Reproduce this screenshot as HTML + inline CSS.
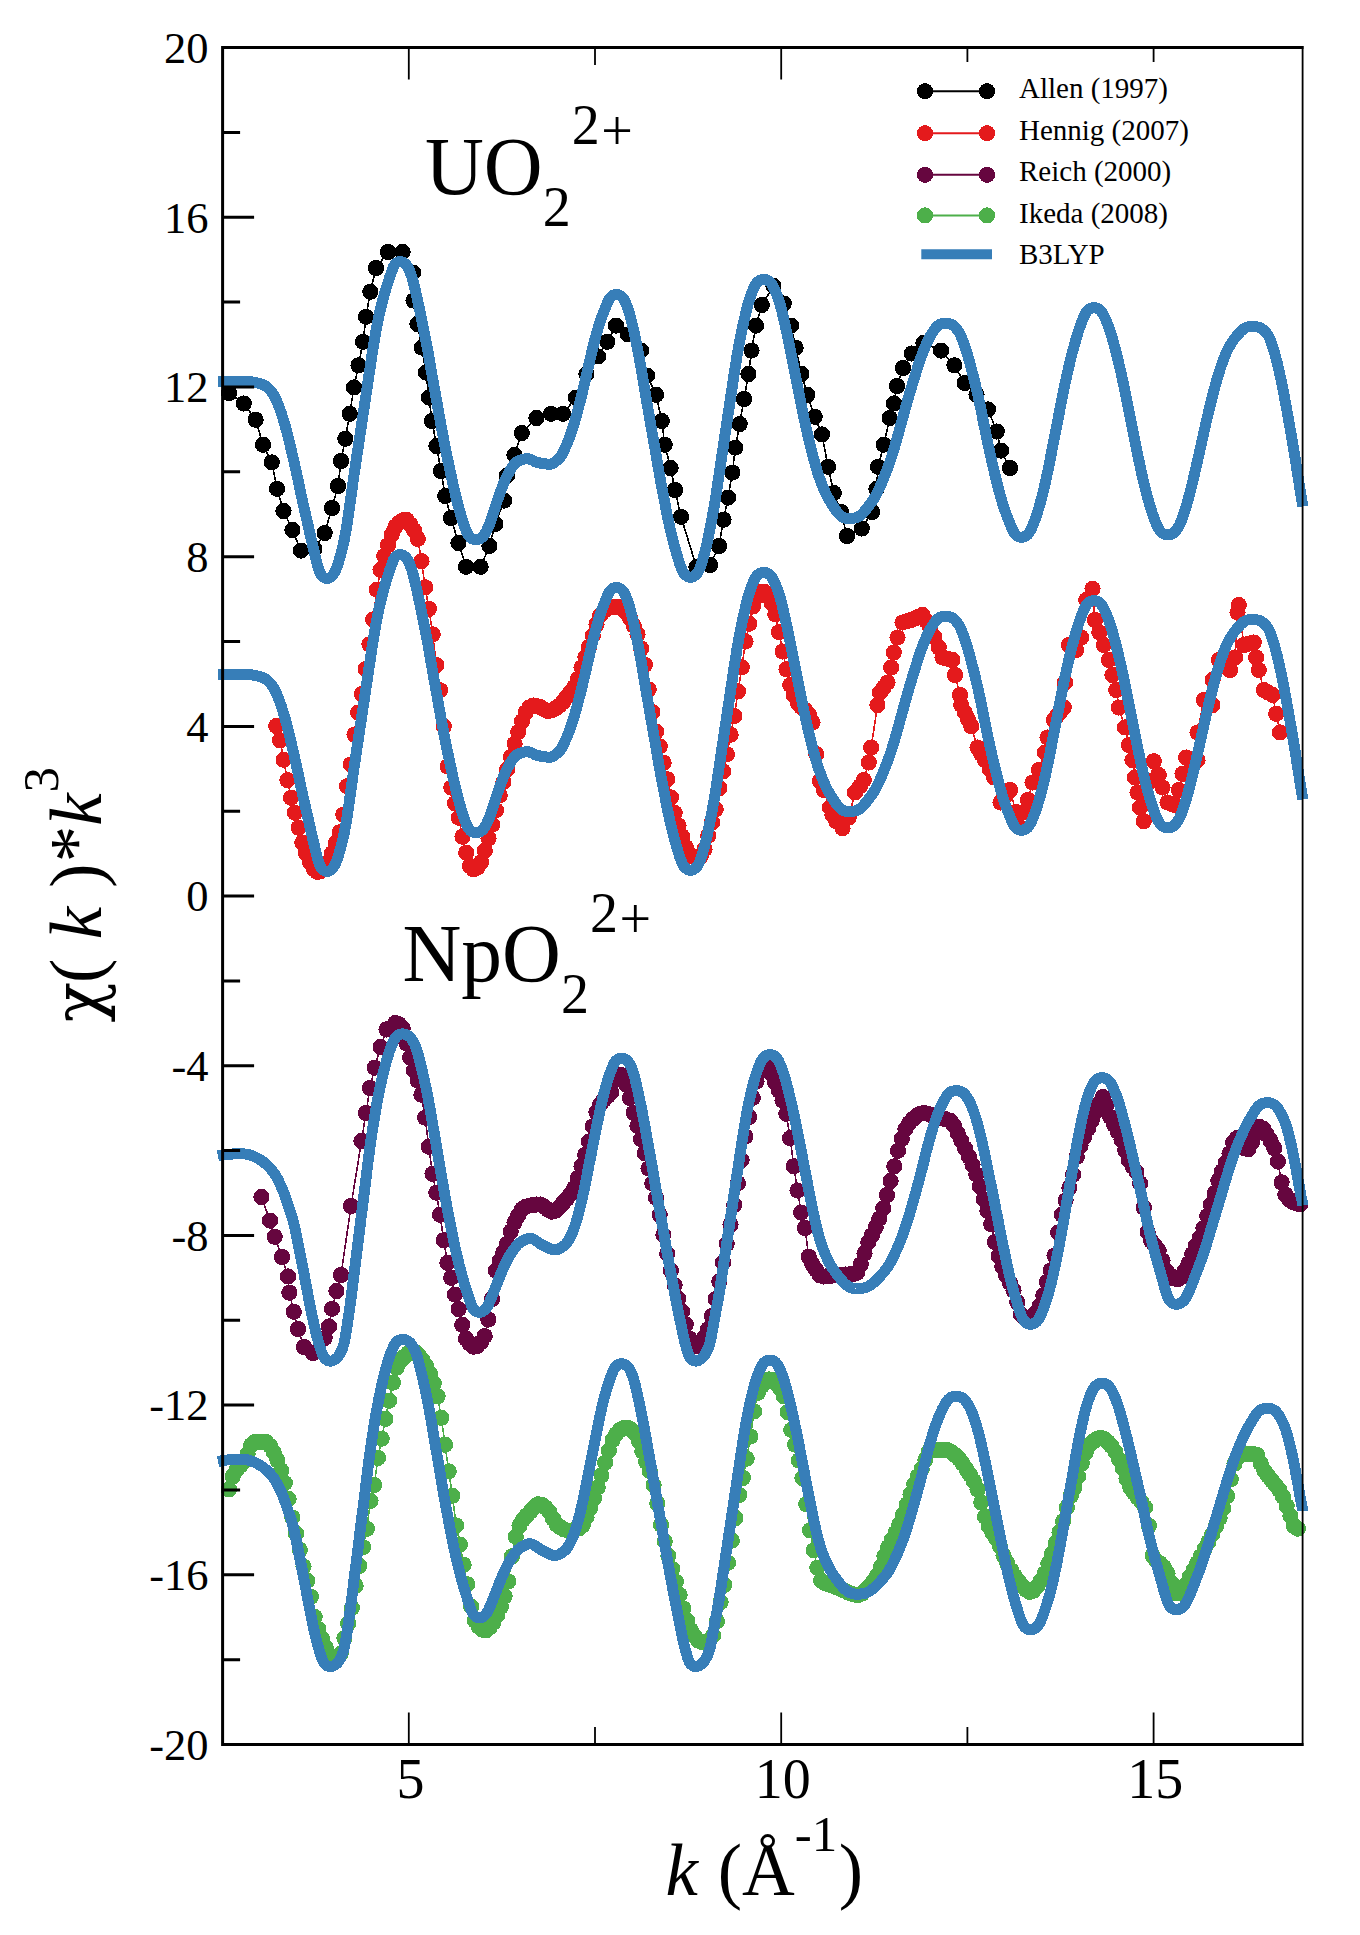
<!DOCTYPE html>
<html lang="en"><head><meta charset="utf-8"><title>EXAFS spectra</title>
<style>html,body{margin:0;padding:0;background:#fff}svg{display:block}text{font-family:"Liberation Serif","DejaVu Serif",serif;fill:#000}.i{font-style:italic}</style></head><body>
<svg width="1360" height="1935" viewBox="0 0 1360 1935">
<rect width="1360" height="1935" fill="#fff"/>
<defs>
<marker id="m-black" markerUnits="userSpaceOnUse" markerWidth="18" markerHeight="18" refX="9" refY="9" viewBox="0 0 18 18"><circle cx="9" cy="9" r="8.1" fill="#000000" shape-rendering="crispEdges"/></marker>
<marker id="m-red" markerUnits="userSpaceOnUse" markerWidth="18" markerHeight="18" refX="9" refY="9" viewBox="0 0 18 18"><circle cx="9" cy="9" r="8.1" fill="#e41a1c" shape-rendering="crispEdges"/></marker>
<marker id="m-purple" markerUnits="userSpaceOnUse" markerWidth="18" markerHeight="18" refX="9" refY="9" viewBox="0 0 18 18"><circle cx="9" cy="9" r="8.1" fill="#66063f" shape-rendering="crispEdges"/></marker>
<marker id="m-green" markerUnits="userSpaceOnUse" markerWidth="18" markerHeight="18" refX="9" refY="9" viewBox="0 0 18 18"><circle cx="9" cy="9" r="8.1" fill="#4daf4a" shape-rendering="crispEdges"/></marker>
</defs>
<g font-size="44.5" text-anchor="end">
<text x="208.5" y="1759.7">-20</text>
<text x="208.5" y="1590">-16</text>
<text x="208.5" y="1420.3">-12</text>
<text x="208.5" y="1250.6">-8</text>
<text x="208.5" y="1080.9">-4</text>
<text x="208.5" y="911.3">0</text>
<text x="208.5" y="741.6">4</text>
<text x="208.5" y="571.9">8</text>
<text x="208.5" y="402.2">12</text>
<text x="208.5" y="232.5">16</text>
<text x="208.5" y="62.8">20</text>
</g>
<g font-size="56" text-anchor="middle">
<text x="410.4" y="1798">5</text>
<text x="782.8" y="1798">10</text>
<text x="1155.2" y="1798">15</text>
</g>
<text font-size="73" x="665.5" y="1895.3"><tspan class="i">k</tspan><tspan dx="1.5"> (Å</tspan><tspan font-size="51" dy="-44.7" dx="0">-1</tspan><tspan dy="44.7" dx="1.5">)</tspan></text>
<text font-size="73" transform="translate(100.5,1022.5) rotate(-90)"><tspan font-size="67" font-family="DejaVu Serif">χ</tspan><tspan dx="-1">( </tspan><tspan class="i" dx="1">k</tspan><tspan dx="1"> )</tspan><tspan dx="1">*</tspan><tspan class="i">k</tspan><tspan font-size="51" dy="-42.5" dx="1">3</tspan></text>
<text font-size="81.5" x="425" y="193.8">UO<tspan font-size="56" dy="32" dx="0">2</tspan><tspan font-size="56" dy="-81.7" dx="1">2</tspan><tspan font-size="56" dy="6" dx="1.5">+</tspan></text>
<text font-size="81.5" x="402.5" y="981">NpO<tspan font-size="56" dy="31.5" dx="0">2</tspan><tspan font-size="56" dy="-81" dx="1">2</tspan><tspan font-size="56" dy="6" dx="1.5">+</tspan></text>
<polyline shape-rendering="crispEdges" fill="none" stroke="#000000" stroke-width="1.6" stroke-linejoin="round" marker-start="url(#m-black)" marker-mid="url(#m-black)" marker-end="url(#m-black)" points="229,393 243.8,403.5 255.6,419.7 263,444.7 271.8,462.4 277,488.8 283.5,511 292.4,530 301,550.6 314.4,549 324.7,533 332,508 338,486 341,461 345.3,438.8 349.7,413.8 354,387.4 358.5,365.3 363,341.8 366,316.8 370.3,291.8 376,268 388,252 402.6,252 413,272.6 413.5,300.6 417.4,324 421.8,347.6 426,372.6 429,397.6 432,421 436.5,446 441,471 445.3,496 451,518 458.5,543 466,566.8 480.6,566.8 489.4,546 495.3,524 504,500.6 507,475.6 514.4,455 521.8,433 536.5,418 551,413.8 563,413.8 576,397.6 586.5,374 598,356.5 607.4,341.8 616,325.6 628,334.4 641,350.6 647,375.6 656,394.7 661.8,421 664.7,444.7 670.6,468 675,490 681,516.8 696.5,567 710,565 719,546 723.5,519.7 728,497.6 732.4,472.6 735.3,447.6 739.7,424 744,399 748.5,374 751.5,350.6 756,325.6 761.8,305 773.5,286 783.8,303.5 791,325.6 795.6,347.6 801.5,374 807.4,394.7 814.7,416.8 822,434.4 828,466.8 833.8,493 841,512 847,536 861.8,528.5 872,512 876.5,489 878,466.8 883.8,444.7 889.7,418 894,403.5 897,386 903,368 911.8,353.5 923.5,343 941,350.6 954.4,365.3 964.7,383 976.5,394.7 988,409.4 996.8,431.5 1001,450.6 1010,468"/>
<polyline shape-rendering="crispEdges" fill="none" stroke="#e41a1c" stroke-width="1.6" stroke-linejoin="round" marker-start="url(#m-red)" marker-mid="url(#m-red)" marker-end="url(#m-red)" points="276.2,726 280,740.3 283.7,759.8 287.4,780.1 291.1,797.8 294.9,812.7 298.6,827.7 302.3,842.8 306,853 309.8,861.7 313.5,868.6 317.2,871.9 320.9,870.9 324.7,867.5 328.4,862.2 332.1,853.1 335.8,843.2 339.6,832.3 343.3,814.6 347,786.2 350.7,764.4 354.5,734.6 358.2,712.5 361.9,694.1 365.6,669.1 369.4,644.3 373.1,619.4 376.8,589.7 380.5,569.9 384.2,556.1 388,545.1 391.7,534.6 395.4,526.7 399.1,522.8 402.9,520.2 406.6,519.8 410.3,524.3 414,530.3 417.8,538.9 421.5,561.1 425.2,587.3 428.9,608.9 432.7,634.3 436.4,665.2 440.1,690.2 443.8,726.4 447.6,766.6 451.3,787.6 455,803.3 458.7,817.7 462.5,836.7 466.2,852.7 469.9,865.9 473.6,869.4 477.4,867.4 481.1,862.2 484.8,850.6 488.5,838.3 492.2,824.8 496,810.1 499.7,795.4 503.4,782 507.1,769.5 510.9,756.9 514.6,743.7 518.3,731.9 522,721.2 525.8,712.4 529.5,707.3 533.2,705.5 536.9,706.2 540.7,707.2 544.4,709.4 548.1,711.2 551.8,710.4 555.6,708.3 559.3,705.6 563,702 566.7,697.1 570.5,692.1 574.2,687.2 577.9,679.1 581.6,667.5 585.4,657.3 589.1,646.8 592.8,635.6 596.5,624.3 600.2,615.4 604,610.7 607.7,608.1 611.4,607.2 615.1,606.8 618.9,607.3 622.6,609.3 626.3,612.3 630,618.1 633.8,625.8 637.5,634.2 641.2,648.5 644.9,664.7 648.7,689.3 652.4,712.2 656.1,731.6 659.8,746.4 663.6,762.6 667.3,779.2 671,797.4 674.7,813 678.5,825.6 682.2,836.5 685.9,847.3 689.6,854.7 693.4,856.9 697.1,858 700.8,856.1 704.5,849.2 708.2,835.7 712,822.6 715.7,809.3 719.4,788.1 723.1,771.3 726.9,754.3 730.6,734.6 734.3,716 738,691.4 741.8,667.3 745.5,641.5 749.2,623.7 752.9,606.5 756.7,596.9 760.4,591.9 764.1,591.6 767.8,596.2 771.6,603.1 775.3,614.3 779,632.1 782.7,651.5 786.5,669.3 790.2,685 793.9,695.4 797.6,702.7 801.4,707.2 805.1,710 808.8,714.3 812.5,722.6 816.2,754.1 820,781 823.7,789.9 830,807.5 832.5,815 836.2,821.2 842.5,828.2 848.8,817.5 855,792.5 860,786.2 863.8,780 868.8,762.5 871.2,747.5 877.5,705 880,692.5 883.8,687.5 887.5,682.5 891.2,667.5 893.8,652.5 897.5,637.5 902.5,622.5 906.9,621.2 911.2,620 915,618.3 918.8,616.7 922.5,615 926.2,621 930,627 934.4,637.2 938.8,647.5 942.5,657.5 945.8,658.3 949.2,659.2 952.5,660 955,675 960,695 961.2,705 964.6,712.1 967.9,719.2 971.2,726.2 977.5,747.5 981.2,753.8 985,760 989.6,768.8 994.2,777.5 1000.5,802.5 1003.7,798.3 1006.8,794.2 1010,790 1016,812 1020,827.5 1024.5,812 1028,800 1032.5,782.5 1038.8,770 1045,752.5 1047.5,737.5 1053.8,720 1057.1,715.8 1060.4,711.7 1063.8,707.5 1065,682.5 1068.8,645 1072.5,647.5 1076.2,650 1081.2,637.5 1086.2,600 1092.5,588.8 1095,620 1099.4,632.5 1103.8,645 1108.8,660 1112.5,675 1116.2,690 1118.8,707.5 1125,727.5 1129,745 1132.5,760 1135,777.5 1137.5,792.5 1140,807.5 1143.8,821.2 1147.1,801.2 1150.4,781.2 1153.8,761.2 1158.8,775 1162.5,787.5 1167.5,802.5 1171.2,803.8 1175,805 1178.8,790 1182.5,773.8 1186.2,757.5 1192,762 1197.5,760 1197.6,732.5 1203.8,700 1208.1,702.5 1212.5,705 1212.6,680 1218.8,660 1222.5,663.3 1226.2,666.7 1230,670 1235,657.5 1237.5,612.5 1238.8,605 1243.8,645 1247.1,644.2 1250.4,643.3 1253.8,642.5 1256.2,657.5 1258.8,670 1263.8,690 1268.1,692.5 1272.5,695 1276.2,713.8 1280,732.5"/>
<polyline shape-rendering="crispEdges" fill="none" stroke="#66063f" stroke-width="1.6" stroke-linejoin="round" marker-start="url(#m-purple)" marker-mid="url(#m-purple)" marker-end="url(#m-purple)" points="261.5,1197 270,1220.6 274.7,1236.8 282,1257 288,1276.5 289.4,1292.6 293.8,1311.8 298,1329 304,1347 313,1353 324.7,1338 329,1326.5 332,1308.8 336.5,1291 341,1275 351,1206 361.5,1141 366,1113 370,1088 374.7,1067.6 380.6,1047 386.5,1029.4 395.3,1023 399,1024.3 402.7,1028.5 406.5,1043.3 410.2,1057.6 413.9,1070.4 417.6,1080.6 421.4,1094.7 425.1,1117.7 428.8,1146.7 432.5,1173.8 436.3,1192.7 440,1214.7 443.7,1240.2 447.4,1262.9 451.2,1277.8 454.9,1294.6 458.6,1309.2 462.3,1324.9 466.1,1338.8 469.8,1343.8 473.5,1346.7 477.2,1345.9 481,1342.1 484.7,1336.1 488.4,1319.6 492.1,1298.9 495.9,1270.7 499.6,1261 503.3,1252.6 507,1243.9 510.7,1231.6 514.5,1222.4 518.2,1215.5 521.9,1209.4 525.6,1206.7 529.4,1205.6 533.1,1204.9 536.8,1204.5 540.5,1204.6 544.3,1206.7 548,1209.7 551.7,1211.7 555.4,1210.8 559.2,1207.3 562.9,1203.1 566.6,1199.1 570.3,1194.4 574.1,1188.3 577.8,1178.1 581.5,1166.3 585.2,1154.7 589,1141.4 592.7,1126.4 596.4,1112.4 600.1,1104.6 603.9,1099.7 607.6,1096.2 611.3,1092.4 615,1080 618.7,1074.5 622.5,1075.3 626.2,1084.7 629.9,1098 633.6,1112.7 637.4,1125.9 641.1,1139.2 644.8,1153.3 648.5,1168.5 652.3,1183.4 656,1197.8 659.7,1214.9 663.4,1234.7 667.2,1253.7 670.9,1270.6 674.6,1285.2 678.3,1298.8 682.1,1311.6 685.8,1324.5 689.5,1338.7 693.2,1346.6 697,1345.9 700.7,1342.8 704.4,1337.4 708.1,1329.1 711.9,1316 715.6,1299.1 719.3,1281.5 723,1262.6 726.7,1243.9 730.5,1224.8 734.2,1204.9 737.9,1183.3 741.6,1160 745.4,1136.6 749.1,1117.1 752.8,1097.9 756.5,1081.4 760.3,1070.4 764,1068.3 767.7,1067.6 771.4,1073.7 775.2,1082.5 778.9,1090.7 782.6,1100.5 786.3,1113.8 790.1,1138.1 793.8,1166.2 797.5,1190.5 801.2,1212.6 805,1228 808.7,1256.6 812.4,1264.5 816.1,1269.9 819.9,1275.3 823.6,1276.5 827.3,1276.2 831,1275.8 834.7,1275.3 838.5,1275 842.2,1274.7 845.9,1274.5 849.6,1274.3 853.4,1273.9 857.1,1272.7 860.8,1264.3 864.5,1253.4 868.3,1242.4 872,1235.1 875.7,1227.2 879.4,1218.6 883.2,1208.3 886.9,1195.1 890.6,1181 894.3,1166.3 898.1,1150.8 901.8,1138.8 905.5,1129.1 909.2,1123 913,1119 916.7,1115.7 920.4,1113.6 924.1,1113 927.9,1113.7 931.6,1115.1 935.3,1116.7 939,1117.9 942.7,1118.6 946.5,1119.4 950.2,1120.7 953.9,1125.4 957.6,1133.1 961.4,1140.7 965.1,1148.3 968.8,1156.5 972.5,1164.9 976.3,1174.4 980,1186.6 983.7,1199.3 987.4,1210.8 991.2,1224.3 994.9,1242.1 998.6,1256 1002.3,1266.4 1006.1,1275.3 1009.8,1282.6 1013.5,1290.3 1017.2,1302.1 1021,1314.5 1024.7,1317.6 1028.4,1319 1032.1,1317.5 1035.9,1312.5 1039.6,1305.8 1043.3,1295.5 1047,1281.9 1050.7,1270.3 1054.5,1255.6 1058.2,1232.5 1061.9,1214.6 1065.6,1200.4 1069.4,1187.8 1073.1,1174.7 1076.8,1156.9 1080.5,1145.9 1084.3,1136.9 1088,1128.9 1091.7,1120.7 1095.4,1112.1 1099.2,1103.6 1102.9,1097.1 1106.6,1105.1 1110.3,1117 1114.1,1124.7 1117.8,1131.7 1121.5,1139.7 1125.2,1150.3 1129,1160.4 1132.7,1166.7 1136.4,1171.9 1140.1,1183.3 1143.9,1207.8 1147.6,1231.9 1151.3,1241.1 1155,1245.8 1158.7,1250.7 1162.5,1260.5 1166.2,1270.9 1169.9,1275.1 1173.6,1278.2 1177.4,1279.4 1181.1,1277 1184.8,1270.8 1188.5,1263.6 1192.3,1253.9 1196,1245.4 1199.7,1238 1203.4,1228.1 1207.2,1216 1210.9,1204.7 1214.6,1193.3 1218.3,1180.8 1222.1,1171.2 1225.8,1162.9 1229.5,1153.6 1233.2,1142.6 1237,1138.1 1240.7,1142.3 1244.4,1148.4 1248.1,1149.3 1251.9,1142.3 1255.6,1132.6 1259.3,1126.7 1263,1128.5 1266.7,1134.5 1270.5,1140.7 1274.2,1148.1 1277.9,1161.5 1281.6,1182.4 1285.4,1194.6 1289.1,1199.4 1292.8,1201.9 1296.5,1203.5 1300.3,1204.4"/>
<polyline shape-rendering="crispEdges" fill="none" stroke="#4daf4a" stroke-width="1.6" stroke-linejoin="round" marker-start="url(#m-green)" marker-mid="url(#m-green)" marker-end="url(#m-green)" points="229,1489.4 232.7,1476.5 236.4,1470 240.2,1465.8 243.9,1461.6 247.6,1454.2 251.3,1444.9 255.1,1442 258.8,1442 262.5,1442 266.2,1442 270,1445.8 273.7,1452.2 277.4,1460.3 281.1,1470.4 284.9,1483 288.6,1499 292.3,1517.4 296,1533.5 299.8,1549.9 303.5,1566.6 307.2,1580.8 310.9,1596.8 314.7,1617 318.4,1629.1 322.1,1639.1 325.8,1647.7 329.6,1655.4 333.3,1660 337,1658.3 340.7,1653.8 344.4,1638.3 348.2,1623.5 351.9,1608 355.6,1585.7 359.3,1565.9 363.1,1547.2 366.8,1528.9 370.5,1500.9 374.2,1485 378,1457.9 381.7,1438.7 385.4,1418.9 389.1,1400.7 392.9,1382.7 396.6,1367.7 400.3,1361.2 404,1357 407.8,1353.5 411.5,1351.3 415.2,1351.9 418.9,1355.8 422.7,1360.4 426.4,1366.5 430.1,1373.9 433.8,1383.3 437.6,1396.4 441.3,1417.8 445,1444.7 448.7,1471.3 452.4,1495.7 456.2,1525.4 459.9,1544.5 463.6,1564.6 467.3,1584.2 471.1,1606.5 474.8,1620.5 478.5,1626.5 482.2,1629.6 486,1630.4 489.7,1627.4 493.4,1622.6 497.1,1615.3 500.9,1606.8 504.6,1596.2 508.3,1581.5 512,1556.4 515.8,1536.6 519.5,1525.7 523.2,1519.6 526.9,1515.2 530.7,1511.2 534.4,1507 538.1,1504.2 541.8,1504.7 545.6,1507.6 549.3,1511.6 553,1518.6 556.7,1524.5 560.4,1527.3 564.2,1529.5 567.9,1530.6 571.6,1530.4 575.3,1529.6 579.1,1528.3 582.8,1525.2 586.5,1517.1 590.2,1508 594,1498.3 597.7,1487.4 601.4,1475.4 605.1,1462.7 608.9,1450.6 612.6,1440.2 616.3,1433.9 620,1430 623.8,1428.1 627.5,1427.7 631.2,1429.6 634.9,1433.4 638.7,1440.9 642.4,1451.5 646.1,1461.7 649.8,1471.1 653.6,1485 657.3,1503.5 661,1524.7 664.7,1541.4 668.4,1555.8 672.2,1568.9 675.9,1581.9 679.6,1594.9 683.3,1608.5 687.1,1620.5 690.8,1630.2 694.5,1636.2 698.2,1640.7 702,1642 705.7,1641.7 709.4,1640.8 713.1,1635.4 716.9,1621.3 720.6,1602.1 724.3,1584.9 728,1562.8 731.8,1540.6 735.5,1518 739.2,1494.9 742.9,1477.9 746.7,1458.7 750.4,1436.6 754.1,1411.3 757.8,1392.9 761.6,1386.2 765.3,1382.3 769,1379.4 772.7,1379.8 776.4,1383.4 780.2,1388.4 783.9,1396.3 787.6,1412.2 791.3,1429.9 795.1,1444.7 798.8,1460.5 802.5,1478 806.2,1504.1 810,1530.3 813.7,1550.4 817.4,1567.6 821.1,1580.6 824.9,1583.1 828.6,1584.5 832.3,1585.6 836,1586.9 839.8,1588.6 843.5,1590.3 847.2,1592 850.9,1593.5 854.7,1594.5 858.4,1595 862.1,1593.6 865.8,1589.9 869.6,1586 873.3,1581.5 877,1575.8 880.7,1567.2 884.4,1556.1 888.2,1547.1 891.9,1539.8 895.6,1532.7 899.3,1524.4 903.1,1514.6 906.8,1504.5 910.5,1494.3 914.2,1484.3 918,1476.1 921.7,1469.1 925.4,1459.7 929.1,1451.1 932.9,1450.5 936.6,1450.1 940.3,1449.8 944,1449.7 947.8,1450.1 951.5,1452.1 955.2,1455.1 958.9,1458.6 962.7,1463.7 966.4,1469.4 970.1,1474.9 973.8,1481.2 977.6,1489.6 981.3,1502.5 985,1516.7 988.7,1526.2 992.4,1533 996.2,1538.7 999.9,1546.2 1003.6,1555.6 1007.3,1563.4 1011.1,1570.2 1014.8,1576 1018.5,1580.9 1022.2,1585.8 1026,1589.8 1029.7,1591.9 1033.4,1590.8 1037.1,1586.5 1040.9,1580.8 1044.6,1573.4 1048.3,1563.7 1052,1553.7 1055.8,1543 1059.5,1532.3 1063.2,1521.1 1066.9,1507.3 1070.7,1496.1 1074.4,1487.7 1078.1,1476.5 1081.8,1463.5 1085.6,1452.7 1089.3,1445.1 1093,1441.7 1096.7,1439.1 1100.4,1438 1104.2,1439 1107.9,1442.1 1111.6,1446.3 1115.3,1451.6 1119.1,1459.6 1122.8,1468.4 1126.5,1478.7 1130.2,1487.2 1134,1492.7 1137.7,1497.5 1141.4,1501.7 1145.1,1507.3 1148.9,1525.7 1152.6,1555.7 1156.3,1560.8 1160,1563.2 1163.8,1567.1 1167.5,1573.4 1171.2,1582.8 1174.9,1593 1178.7,1593.1 1182.4,1590.5 1186.1,1584.9 1189.8,1576.8 1193.6,1569.8 1197.3,1563 1201,1556.1 1204.7,1549 1208.4,1541.9 1212.2,1534.4 1215.9,1526.5 1219.6,1518.2 1223.3,1508.4 1227.1,1495.9 1230.8,1479.3 1234.5,1463.7 1238.2,1456.8 1242,1454 1245.7,1454 1249.4,1454 1253.1,1454 1256.9,1454.9 1260.6,1463.3 1264.3,1470.8 1268,1475.8 1271.8,1480.5 1275.5,1485.1 1279.2,1489.8 1282.9,1496.7 1286.7,1506 1290.4,1515.7 1294.1,1526.1 1297.8,1528.7"/>
<polyline shape-rendering="crispEdges" fill="none" stroke="#377eb8" stroke-width="11" stroke-linejoin="round" stroke-linecap="butt" points="218,381.5 219.5,381.4 221,381.4 222.5,381.3 224,381.3 225.5,381.3 227,381.2 228.5,381.2 230,381.2 231.5,381.2 233,381.2 234.5,381.2 236,381.2 237.5,381.2 239,381.2 240.5,381.2 242,381.2 243.5,381.2 245,381.2 246.5,381.3 248,381.4 249.5,381.6 251,381.8 252.5,382 254,382.3 255.5,382.6 257,382.9 258.5,383.3 260,383.7 261.5,384.1 263,384.7 264.5,385.3 266,386.2 267.5,387.3 269,388.8 270.5,390.5 272,392.4 273.5,394.8 275,397.5 276.5,400.6 278,404.1 279.5,408 281,412.3 282.5,416.9 284,421.7 285.5,426.9 287,432.5 288.5,438.5 290,444.7 291.5,451.1 293,457.4 294.5,463.9 296,470.5 297.5,477.4 299,484.5 300.5,491.7 302,498.8 303.5,505.5 305,512.1 306.5,518.5 308,525 309.5,531.7 311,538.4 312.5,544.8 314,551 315.5,557.2 317,563.4 318.5,568.8 320,572.8 321.5,575.3 323,576.8 324.5,577.9 326,578.5 327.5,578.6 329,578.1 330.5,577.2 332,575.9 333.5,574.2 335,571.6 336.5,568.1 338,563.8 339.5,558.9 341,553.6 342.5,547.8 344,541.1 345.5,533.4 347,524.6 348.5,514.6 350,503.7 351.5,492.8 353,482.1 354.5,471.7 356,461.6 357.5,451.6 359,441.7 360.5,431.7 362,421.7 363.5,411.7 365,401.7 366.5,391.7 368,381.7 369.5,371.6 371,361.5 372.5,351.7 374,342.3 375.5,333.4 377,325.2 378.5,317.9 380,311.1 381.5,304.9 383,299.2 384.5,293.8 386,288.7 387.5,283.9 389,279.4 390.5,274.9 392,270.5 393.5,266.7 395,264.1 396.5,262.7 398,261.9 399.5,261.4 401,261.5 402.5,262 404,262.9 405.5,264.1 407,265.8 408.5,268.4 410,271.8 411.5,275.9 413,280.9 414.5,286.9 416,293.3 417.5,300 419,306.9 420.5,314 422,321.3 423.5,328.6 425,336 426.5,343.5 428,351.6 429.5,360.2 431,369 432.5,377.8 434,386.2 435.5,394.5 437,402.8 438.5,411.2 440,419.5 441.5,427.7 443,435.7 444.5,443.6 446,451.2 447.5,458.6 449,465.7 450.5,472.7 452,479.5 453.5,486.3 455,492.8 456.5,498.9 458,504.8 459.5,510.4 461,515.7 462.5,520.6 464,524.9 465.5,528.9 467,532.5 468.5,535.4 470,537.3 471.5,538.5 473,539.2 474.5,539.7 476,539.9 477.5,539.7 479,539.2 480.5,538.4 482,537.4 483.5,535.9 485,533.7 486.5,530.9 488,527.7 489.5,524.3 491,520.4 492.5,515.8 494,511 495.5,506.1 497,501.5 498.5,497.2 500,493.1 501.5,489 503,485 504.5,481.4 506,478 507.5,475.1 509,472.3 510.5,469.7 512,467.3 513.5,465.1 515,463.3 516.5,462 518,461.1 519.5,460.5 521,459.9 522.5,459.5 524,459.1 525.5,458.9 527,458.8 528.5,458.9 530,459.3 531.5,459.9 533,460.6 534.5,461.4 536,462 537.5,462.5 539,462.8 540.5,463.1 542,463.4 543.5,463.7 545,463.9 546.5,464 548,464.2 549.5,464.2 551,464.1 552.5,463.6 554,462.8 555.5,461.7 557,460.4 558.5,459 560,457.4 561.5,455.3 563,452.7 564.5,449.5 566,446 567.5,442.5 569,438.7 570.5,434.7 572,430.3 573.5,425.7 575,420.7 576.5,415.4 578,409.7 579.5,403.9 581,398 582.5,391.9 584,385.6 585.5,379.3 587,372.8 588.5,366.2 590,359.6 591.5,353.2 593,347 594.5,341.1 596,335.4 597.5,330.1 599,325.1 600.5,320.6 602,316.4 603.5,312.4 605,308.7 606.5,305 608,301.4 609.5,298.5 611,296.8 612.5,295.6 614,294.9 615.5,294.4 617,294.4 618.5,294.8 620,295.5 621.5,296.5 623,298 624.5,300.4 626,303.7 627.5,307.6 629,312.1 630.5,317.3 632,323.1 633.5,329.4 635,336.3 636.5,343.7 638,351.4 639.5,359.5 641,367.9 642.5,376.5 644,385.2 645.5,394.1 647,403 648.5,411.8 650,420.6 651.5,429.2 653,437.5 654.5,445.8 656,454.5 657.5,463.3 659,472 660.5,480.4 662,488.4 663.5,496.1 665,503.9 666.5,511.6 668,519 669.5,526 671,532.6 672.5,538.8 674,544.6 675.5,549.9 677,555 678.5,560 680,564.7 681.5,568.8 683,572 684.5,574.1 686,575.5 687.5,576.5 689,577.1 690.5,577.4 692,577.1 693.5,576.5 695,575.5 696.5,574.1 698,572.1 699.5,569 701,565 702.5,560.4 704,555.3 705.5,549.8 707,543.6 708.5,536.5 710,528.9 711.5,521 713,512.9 714.5,504.3 716,495.1 717.5,485.2 719,475.1 720.5,465 722,455 723.5,445 725,435 726.5,425 728,415 729.5,405 731,395 732.5,384.9 734,375 735.5,365.3 737,356 738.5,347.4 740,339.5 741.5,332 743,325.1 744.5,318.3 746,311.9 747.5,306 749,300.9 750.5,296.5 752,292.4 753.5,288.6 755,285.5 756.5,283.2 758,281.6 759.5,280.6 761,279.9 762.5,279.5 764,279.4 765.5,279.6 767,280.2 768.5,281 770,282.1 771.5,283.8 773,286.2 774.5,289.3 776,292.8 777.5,296.7 779,300.9 780.5,305.9 782,311.6 783.5,318 785,324.6 786.5,331.5 788,338.8 789.5,346.3 791,353.7 792.5,361.2 794,368.7 795.5,376.3 797,383.8 798.5,391.3 800,398.7 801.5,406.1 803,413.3 804.5,420.4 806,427.2 807.5,433.8 809,440.2 810.5,446.4 812,452.3 813.5,458.1 815,463.7 816.5,468.9 818,473.7 819.5,478 821,482.1 822.5,485.9 824,489.5 825.5,492.9 827,495.9 828.5,498.7 830,501.2 831.5,503.6 833,506 834.5,508.3 836,510.4 837.5,512.4 839,514.1 840.5,515.6 842,516.7 843.5,517.5 845,518 846.5,518.3 848,518.6 849.5,518.7 851,518.7 852.5,518.5 854,518.2 855.5,517.8 857,517.3 858.5,516.6 860,515.6 861.5,514.4 863,512.9 864.5,511.3 866,509.5 867.5,507.6 869,505.6 870.5,503.5 872,501.4 873.5,499.2 875,496.8 876.5,494.1 878,491.1 879.5,487.9 881,484.5 882.5,481 884,477.4 885.5,473.7 887,469.9 888.5,465.8 890,461.5 891.5,457 893,452.3 894.5,447.5 896,442.3 897.5,436.9 899,431.4 900.5,425.9 902,420.5 903.5,415.1 905,409.7 906.5,404.4 908,399.2 909.5,394 911,388.9 912.5,383.9 914,379 915.5,374.2 917,369.5 918.5,364.8 920,360.3 921.5,355.9 923,351.9 924.5,348.3 926,344.8 927.5,341.6 929,338.6 930.5,335.8 932,333.3 933.5,331 935,328.9 936.5,327 938,325.5 939.5,324.5 941,323.9 942.5,323.4 944,323.2 945.5,323.1 947,323.2 948.5,323.4 950,323.9 951.5,324.4 953,325.3 954.5,326.5 956,328.1 957.5,330 959,332.2 960.5,335 962,338.5 963.5,342.6 965,347 966.5,351.6 968,356.5 969.5,361.8 971,367.4 972.5,373.1 974,378.9 975.5,385 977,391.3 978.5,397.8 980,404.9 981.5,412.3 983,419.9 984.5,427.4 986,434.7 987.5,441.8 989,448.8 990.5,455.6 992,462.2 993.5,468.7 995,475 996.5,481.1 998,487.1 999.5,492.9 1001,498.2 1002.5,503.1 1004,507.8 1005.5,512.1 1007,516.3 1008.5,520.1 1010,523.8 1011.5,527.4 1013,530.8 1014.5,533.5 1016,535.2 1017.5,536.2 1019,536.9 1020.5,537.3 1022,537.4 1023.5,537.1 1025,536.4 1026.5,535.6 1028,534.3 1029.5,532.2 1031,529.4 1032.5,526.1 1034,522.5 1035.5,518.4 1037,513.9 1038.5,509.1 1040,503.9 1041.5,498.4 1043,492.5 1044.5,486.2 1046,479.5 1047.5,472.6 1049,465.2 1050.5,457.7 1052,450 1053.5,442.4 1055,434.7 1056.5,427 1058,419.3 1059.5,411.5 1061,403.8 1062.5,396.3 1064,388.8 1065.5,381.6 1067,374.6 1068.5,368.1 1070,361.8 1071.5,355.8 1073,350 1074.5,344.6 1076,339.2 1077.5,334.2 1079,329.5 1080.5,325.3 1082,321.4 1083.5,317.7 1085,314.4 1086.5,311.8 1088,310.1 1089.5,309 1091,308.3 1092.5,307.8 1094,307.6 1095.5,307.8 1097,308.3 1098.5,309 1100,310.1 1101.5,311.6 1103,313.9 1104.5,316.9 1106,320.2 1107.5,323.8 1109,327.8 1110.5,332.2 1112,337.2 1113.5,342.6 1115,348.2 1116.5,353.9 1118,359.9 1119.5,366.3 1121,372.8 1122.5,379.6 1124,386.7 1125.5,393.9 1127,401.2 1128.5,408.7 1130,416.2 1131.5,423.7 1133,431.3 1134.5,438.8 1136,446.3 1137.5,453.7 1139,461 1140.5,468.1 1142,474.9 1143.5,481.4 1145,487.6 1146.5,493.5 1148,499 1149.5,504.2 1151,509.2 1152.5,513.9 1154,518.2 1155.5,522.1 1157,525.4 1158.5,528.4 1160,530.9 1161.5,532.6 1163,533.6 1164.5,534.3 1166,534.7 1167.5,534.9 1169,534.8 1170.5,534.5 1172,533.9 1173.5,533.1 1175,531.8 1176.5,530 1178,527.6 1179.5,524.9 1181,521.6 1182.5,517.7 1184,513.3 1185.5,508.5 1187,503.4 1188.5,498.1 1190,492.5 1191.5,486.5 1193,480.3 1194.5,473.9 1196,467.5 1197.5,461 1199,454.4 1200.5,447.7 1202,440.9 1203.5,434 1205,427.3 1206.5,420.7 1208,414.3 1209.5,408.1 1211,402 1212.5,396.1 1214,390.2 1215.5,384.6 1217,379.2 1218.5,374.3 1220,369.6 1221.5,365.1 1223,360.8 1224.5,356.9 1226,353.3 1227.5,350.1 1229,347.2 1230.5,344.6 1232,342.2 1233.5,340 1235,338 1236.5,336.2 1238,334.5 1239.5,332.8 1241,331.2 1242.5,329.8 1244,328.6 1245.5,327.7 1247,327.2 1248.5,326.8 1250,326.5 1251.5,326.3 1253,326.3 1254.5,326.4 1256,326.6 1257.5,327 1259,327.4 1260.5,328 1262,328.9 1263.5,330.1 1265,331.5 1266.5,333.2 1268,335.2 1269.5,338 1271,341.7 1272.5,346.1 1274,350.9 1275.5,356.2 1277,362.1 1278.5,368.4 1280,375.1 1281.5,382.1 1283,389.6 1284.5,397.4 1286,405.4 1287.5,413.7 1289,422.2 1290.5,430.8 1292,439.6 1293.5,448.5 1295,457.7 1296.5,467.1 1298,476.6 1299.5,486.2 1301,496 1302.5,503.5 1302.6,506.5"/>
<polyline shape-rendering="crispEdges" fill="none" stroke="#377eb8" stroke-width="11" stroke-linejoin="round" stroke-linecap="butt" points="218,674.5 219.5,674.4 221,674.4 222.5,674.3 224,674.3 225.5,674.3 227,674.2 228.5,674.2 230,674.2 231.5,674.2 233,674.2 234.5,674.2 236,674.2 237.5,674.2 239,674.2 240.5,674.2 242,674.2 243.5,674.2 245,674.2 246.5,674.3 248,674.4 249.5,674.6 251,674.8 252.5,675 254,675.3 255.5,675.6 257,675.9 258.5,676.3 260,676.7 261.5,677.1 263,677.7 264.5,678.3 266,679.2 267.5,680.3 269,681.8 270.5,683.5 272,685.4 273.5,687.8 275,690.5 276.5,693.6 278,697.1 279.5,701 281,705.3 282.5,709.9 284,714.7 285.5,719.9 287,725.5 288.5,731.5 290,737.7 291.5,744.1 293,750.4 294.5,756.9 296,763.5 297.5,770.4 299,777.5 300.5,784.7 302,791.8 303.5,798.5 305,805.1 306.5,811.5 308,818 309.5,824.7 311,831.4 312.5,837.8 314,844 315.5,850.2 317,856.4 318.5,861.8 320,865.8 321.5,868.3 323,869.8 324.5,870.9 326,871.5 327.5,871.6 329,871.1 330.5,870.2 332,868.9 333.5,867.2 335,864.6 336.5,861.1 338,856.8 339.5,851.9 341,846.6 342.5,840.8 344,834.1 345.5,826.4 347,817.6 348.5,807.6 350,796.7 351.5,785.8 353,775.1 354.5,764.7 356,754.6 357.5,744.6 359,734.7 360.5,724.7 362,714.7 363.5,704.7 365,694.7 366.5,684.7 368,674.7 369.5,664.6 371,654.5 372.5,644.7 374,635.3 375.5,626.4 377,618.2 378.5,610.9 380,604.1 381.5,597.9 383,592.2 384.5,586.8 386,581.7 387.5,576.9 389,572.4 390.5,567.9 392,563.5 393.5,559.7 395,557.1 396.5,555.7 398,554.9 399.5,554.4 401,554.5 402.5,555 404,555.9 405.5,557.1 407,558.8 408.5,561.4 410,564.8 411.5,568.9 413,573.9 414.5,579.9 416,586.3 417.5,593 419,599.9 420.5,607 422,614.3 423.5,621.6 425,629 426.5,636.5 428,644.6 429.5,653.2 431,662 432.5,670.8 434,679.2 435.5,687.5 437,695.8 438.5,704.2 440,712.5 441.5,720.7 443,728.7 444.5,736.6 446,744.2 447.5,751.6 449,758.7 450.5,765.7 452,772.5 453.5,779.3 455,785.8 456.5,791.9 458,797.8 459.5,803.4 461,808.7 462.5,813.6 464,817.9 465.5,821.9 467,825.5 468.5,828.4 470,830.3 471.5,831.5 473,832.2 474.5,832.7 476,832.9 477.5,832.7 479,832.2 480.5,831.4 482,830.4 483.5,828.9 485,826.7 486.5,823.9 488,820.7 489.5,817.3 491,813.4 492.5,808.8 494,804 495.5,799.1 497,794.5 498.5,790.2 500,786.1 501.5,782 503,778 504.5,774.4 506,771 507.5,768.1 509,765.3 510.5,762.7 512,760.3 513.5,758.1 515,756.3 516.5,755 518,754.1 519.5,753.5 521,752.9 522.5,752.5 524,752.1 525.5,751.9 527,751.8 528.5,751.9 530,752.3 531.5,752.9 533,753.6 534.5,754.4 536,755 537.5,755.5 539,755.8 540.5,756.1 542,756.4 543.5,756.7 545,756.9 546.5,757 548,757.2 549.5,757.2 551,757.1 552.5,756.6 554,755.8 555.5,754.7 557,753.4 558.5,752 560,750.4 561.5,748.3 563,745.7 564.5,742.5 566,739 567.5,735.5 569,731.7 570.5,727.7 572,723.3 573.5,718.7 575,713.7 576.5,708.4 578,702.7 579.5,696.9 581,691 582.5,684.9 584,678.6 585.5,672.3 587,665.8 588.5,659.2 590,652.6 591.5,646.2 593,640 594.5,634.1 596,628.4 597.5,623.1 599,618.1 600.5,613.6 602,609.4 603.5,605.4 605,601.7 606.5,598 608,594.4 609.5,591.5 611,589.8 612.5,588.6 614,587.9 615.5,587.4 617,587.4 618.5,587.8 620,588.5 621.5,589.5 623,591 624.5,593.4 626,596.7 627.5,600.6 629,605.1 630.5,610.3 632,616.1 633.5,622.4 635,629.3 636.5,636.7 638,644.4 639.5,652.5 641,660.9 642.5,669.5 644,678.2 645.5,687.1 647,696 648.5,704.8 650,713.6 651.5,722.2 653,730.5 654.5,738.8 656,747.5 657.5,756.3 659,765 660.5,773.4 662,781.4 663.5,789.1 665,796.9 666.5,804.6 668,812 669.5,819 671,825.6 672.5,831.8 674,837.6 675.5,842.9 677,848 678.5,853 680,857.7 681.5,861.8 683,865 684.5,867.1 686,868.5 687.5,869.5 689,870.1 690.5,870.4 692,870.1 693.5,869.5 695,868.5 696.5,867.1 698,865.1 699.5,862 701,858 702.5,853.4 704,848.3 705.5,842.8 707,836.6 708.5,829.5 710,821.9 711.5,814 713,805.9 714.5,797.3 716,788.1 717.5,778.2 719,768.1 720.5,758 722,748 723.5,738 725,728 726.5,718 728,708 729.5,698 731,688 732.5,677.9 734,668 735.5,658.3 737,649 738.5,640.4 740,632.5 741.5,625 743,618.1 744.5,611.3 746,604.9 747.5,599 749,593.9 750.5,589.5 752,585.4 753.5,581.6 755,578.5 756.5,576.2 758,574.6 759.5,573.6 761,572.9 762.5,572.5 764,572.4 765.5,572.6 767,573.2 768.5,574 770,575.1 771.5,576.8 773,579.2 774.5,582.3 776,585.8 777.5,589.7 779,593.9 780.5,598.9 782,604.6 783.5,611 785,617.6 786.5,624.5 788,631.8 789.5,639.3 791,646.7 792.5,654.2 794,661.7 795.5,669.3 797,676.8 798.5,684.3 800,691.7 801.5,699.1 803,706.3 804.5,713.4 806,720.2 807.5,726.8 809,733.2 810.5,739.4 812,745.3 813.5,751.1 815,756.7 816.5,761.9 818,766.7 819.5,771 821,775.1 822.5,778.9 824,782.5 825.5,785.9 827,788.9 828.5,791.7 830,794.2 831.5,796.6 833,799 834.5,801.3 836,803.4 837.5,805.4 839,807.1 840.5,808.6 842,809.7 843.5,810.5 845,811 846.5,811.3 848,811.6 849.5,811.7 851,811.7 852.5,811.5 854,811.2 855.5,810.8 857,810.3 858.5,809.6 860,808.6 861.5,807.4 863,805.9 864.5,804.3 866,802.5 867.5,800.6 869,798.6 870.5,796.5 872,794.4 873.5,792.2 875,789.8 876.5,787.1 878,784.1 879.5,780.9 881,777.5 882.5,774 884,770.4 885.5,766.7 887,762.9 888.5,758.8 890,754.5 891.5,750 893,745.3 894.5,740.5 896,735.3 897.5,729.9 899,724.4 900.5,718.9 902,713.5 903.5,708.1 905,702.7 906.5,697.4 908,692.2 909.5,687 911,681.9 912.5,676.9 914,672 915.5,667.2 917,662.5 918.5,657.8 920,653.3 921.5,648.9 923,644.9 924.5,641.3 926,637.8 927.5,634.6 929,631.6 930.5,628.8 932,626.3 933.5,624 935,621.9 936.5,620 938,618.5 939.5,617.5 941,616.9 942.5,616.4 944,616.2 945.5,616.1 947,616.2 948.5,616.4 950,616.9 951.5,617.4 953,618.3 954.5,619.5 956,621.1 957.5,623 959,625.2 960.5,628 962,631.5 963.5,635.6 965,640 966.5,644.6 968,649.5 969.5,654.8 971,660.4 972.5,666.1 974,671.9 975.5,678 977,684.3 978.5,690.8 980,697.9 981.5,705.3 983,712.9 984.5,720.4 986,727.7 987.5,734.8 989,741.8 990.5,748.6 992,755.2 993.5,761.7 995,768 996.5,774.1 998,780.1 999.5,785.9 1001,791.2 1002.5,796.1 1004,800.8 1005.5,805.1 1007,809.3 1008.5,813.1 1010,816.8 1011.5,820.4 1013,823.8 1014.5,826.5 1016,828.2 1017.5,829.2 1019,829.9 1020.5,830.3 1022,830.4 1023.5,830.1 1025,829.4 1026.5,828.6 1028,827.3 1029.5,825.2 1031,822.4 1032.5,819.1 1034,815.5 1035.5,811.4 1037,806.9 1038.5,802.1 1040,796.9 1041.5,791.4 1043,785.5 1044.5,779.2 1046,772.5 1047.5,765.6 1049,758.2 1050.5,750.7 1052,743 1053.5,735.4 1055,727.7 1056.5,720 1058,712.3 1059.5,704.5 1061,696.8 1062.5,689.3 1064,681.8 1065.5,674.6 1067,667.6 1068.5,661.1 1070,654.8 1071.5,648.8 1073,643 1074.5,637.6 1076,632.2 1077.5,627.2 1079,622.5 1080.5,618.3 1082,614.4 1083.5,610.7 1085,607.4 1086.5,604.8 1088,603.1 1089.5,602 1091,601.3 1092.5,600.8 1094,600.6 1095.5,600.8 1097,601.3 1098.5,602 1100,603.1 1101.5,604.6 1103,606.9 1104.5,609.9 1106,613.2 1107.5,616.8 1109,620.8 1110.5,625.2 1112,630.2 1113.5,635.6 1115,641.2 1116.5,646.9 1118,652.9 1119.5,659.3 1121,665.8 1122.5,672.6 1124,679.7 1125.5,686.9 1127,694.2 1128.5,701.7 1130,709.2 1131.5,716.7 1133,724.3 1134.5,731.8 1136,739.3 1137.5,746.7 1139,754 1140.5,761.1 1142,767.9 1143.5,774.4 1145,780.6 1146.5,786.5 1148,792 1149.5,797.2 1151,802.2 1152.5,806.9 1154,811.2 1155.5,815.1 1157,818.4 1158.5,821.4 1160,823.9 1161.5,825.6 1163,826.6 1164.5,827.3 1166,827.7 1167.5,827.9 1169,827.8 1170.5,827.5 1172,826.9 1173.5,826.1 1175,824.8 1176.5,823 1178,820.6 1179.5,817.9 1181,814.6 1182.5,810.7 1184,806.3 1185.5,801.5 1187,796.4 1188.5,791.1 1190,785.5 1191.5,779.5 1193,773.3 1194.5,766.9 1196,760.5 1197.5,754 1199,747.4 1200.5,740.7 1202,733.9 1203.5,727 1205,720.3 1206.5,713.7 1208,707.3 1209.5,701.1 1211,695 1212.5,689.1 1214,683.2 1215.5,677.6 1217,672.2 1218.5,667.3 1220,662.6 1221.5,658.1 1223,653.8 1224.5,649.9 1226,646.3 1227.5,643.1 1229,640.2 1230.5,637.6 1232,635.2 1233.5,633 1235,631 1236.5,629.2 1238,627.5 1239.5,625.8 1241,624.2 1242.5,622.8 1244,621.6 1245.5,620.7 1247,620.2 1248.5,619.8 1250,619.5 1251.5,619.3 1253,619.3 1254.5,619.4 1256,619.6 1257.5,620 1259,620.4 1260.5,621 1262,621.9 1263.5,623.1 1265,624.5 1266.5,626.2 1268,628.2 1269.5,631 1271,634.7 1272.5,639.1 1274,643.9 1275.5,649.2 1277,655.1 1278.5,661.4 1280,668.1 1281.5,675.1 1283,682.6 1284.5,690.4 1286,698.4 1287.5,706.7 1289,715.2 1290.5,723.8 1292,732.6 1293.5,741.5 1295,750.7 1296.5,760.1 1298,769.6 1299.5,779.2 1301,789 1302.5,796.5 1302.6,799.5"/>
<polyline shape-rendering="crispEdges" fill="none" stroke="#377eb8" stroke-width="11" stroke-linejoin="round" stroke-linecap="butt" points="218,1156 219.5,1155.7 221,1155.4 222.5,1155.2 224,1155 225.5,1154.7 227,1154.5 228.5,1154.4 230,1154.2 231.5,1154.1 233,1153.9 234.5,1153.8 236,1153.7 237.5,1153.6 239,1153.5 240.5,1153.5 242,1153.6 243.5,1153.8 245,1154 246.5,1154.2 248,1154.5 249.5,1154.9 251,1155.4 252.5,1155.9 254,1156.6 255.5,1157.2 257,1158 258.5,1158.8 260,1159.7 261.5,1160.7 263,1161.7 264.5,1162.9 266,1164.1 267.5,1165.5 269,1167 270.5,1168.7 272,1170.5 273.5,1172.4 275,1174.6 276.5,1177 278,1179.7 279.5,1182.8 281,1186.1 282.5,1189.6 284,1193.4 285.5,1197.6 287,1202 288.5,1206.4 290,1210.8 291.5,1215.3 293,1220.4 294.5,1226.4 296,1233.4 297.5,1240.9 299,1248.4 300.5,1255.9 302,1263.4 303.5,1271.1 305,1279 306.5,1287 308,1295 309.5,1302.8 311,1310.4 312.5,1317.6 314,1324.4 315.5,1330.9 317,1336.9 318.5,1342.4 320,1347.3 321.5,1351.9 323,1355.6 324.5,1358.1 326,1359.5 327.5,1360.4 329,1360.9 330.5,1361.1 332,1360.9 333.5,1360.3 335,1359.4 336.5,1358.3 338,1356.8 339.5,1354.6 341,1351.8 342.5,1348.3 344,1343.4 345.5,1336.1 347,1326.7 348.5,1316.6 350,1306 351.5,1294.7 353,1282.6 354.5,1270.3 356,1258.5 357.5,1246.8 359,1234.6 360.5,1222.2 362,1210.4 363.5,1198.7 365,1186.6 366.5,1174.2 368,1162.2 369.5,1150.7 371,1139.8 372.5,1129.7 374,1120.2 375.5,1111.3 377,1102.9 378.5,1095.1 380,1087.7 381.5,1080.7 383,1074.1 384.5,1068.2 386,1062.6 387.5,1057.4 389,1052.6 390.5,1048.3 392,1044.5 393.5,1041.1 395,1038.3 396.5,1036.3 398,1035.2 399.5,1034.5 401,1034 402.5,1033.8 404,1034 405.5,1034.4 407,1035 408.5,1035.9 410,1037.1 411.5,1038.9 413,1041.3 414.5,1044.1 416,1047.7 417.5,1052.3 419,1057.8 420.5,1063.9 422,1070 423.5,1076.4 425,1083.1 426.5,1090.2 428,1097.7 429.5,1105.8 431,1114.3 432.5,1122.9 434,1131.7 435.5,1140.6 437,1149.4 438.5,1158.2 440,1167.1 441.5,1176 443,1184.8 444.5,1193.5 446,1201.7 447.5,1209.7 449,1217.4 450.5,1225.2 452,1232.8 453.5,1240.2 455,1247.2 456.5,1253.8 458,1260.1 459.5,1266.1 461,1271.8 462.5,1277.2 464,1282.4 465.5,1287.3 467,1292 468.5,1296.6 470,1301.2 471.5,1305.4 473,1308.4 474.5,1310.2 476,1311.3 477.5,1312 479,1312.4 480.5,1312.3 482,1311.8 483.5,1310.9 485,1309.7 486.5,1308 488,1305.5 489.5,1302.2 491,1298.6 492.5,1295 494,1291.4 495.5,1287.7 497,1283.8 498.5,1279.8 500,1276 501.5,1272.4 503,1268.9 504.5,1265.6 506,1262.4 507.5,1259.5 509,1256.7 510.5,1254.2 512,1251.9 513.5,1249.7 515,1247.7 516.5,1245.8 518,1244.2 519.5,1242.9 521,1241.9 522.5,1241 524,1240.1 525.5,1239.4 527,1238.8 528.5,1238.4 530,1238.3 531.5,1238.5 533,1239 534.5,1239.8 536,1240.8 537.5,1241.8 539,1242.9 540.5,1243.9 542,1244.7 543.5,1245.5 545,1246.3 546.5,1247.1 548,1247.8 549.5,1248.5 551,1249.2 552.5,1249.6 554,1249.9 555.5,1249.9 557,1249.7 558.5,1249.2 560,1248.4 561.5,1247.5 563,1246.5 564.5,1245.3 566,1243.9 567.5,1242 569,1239.5 570.5,1236.7 572,1233.5 573.5,1229.9 575,1225.6 576.5,1220.8 578,1215.5 579.5,1209.8 581,1203.6 582.5,1197.1 584,1190.2 585.5,1182.8 587,1175.1 588.5,1167.5 590,1160 591.5,1152.5 593,1145 594.5,1137.4 596,1129.9 597.5,1122.5 599,1115.2 600.5,1108.1 602,1101.3 603.5,1095.1 605,1089.5 606.5,1084.2 608,1079.3 609.5,1074.8 611,1070.7 612.5,1066.9 614,1063.6 615.5,1061.2 617,1059.8 618.5,1058.9 620,1058.3 621.5,1058.1 623,1058.3 624.5,1058.8 626,1059.7 627.5,1060.9 629,1062.7 630.5,1065.4 632,1068.9 633.5,1073.2 635,1078.6 636.5,1084.9 638,1091.6 639.5,1098.6 641,1105.8 642.5,1113.5 644,1121.4 645.5,1129.6 647,1138 648.5,1146.4 650,1154.7 651.5,1163 653,1171.5 654.5,1180.3 656,1189.1 657.5,1197.7 659,1206.1 660.5,1214.4 662,1223 663.5,1231.8 665,1240.6 666.5,1249.2 668,1257.6 669.5,1265.9 671,1274 672.5,1282 674,1289.8 675.5,1297.5 677,1305.2 678.5,1312.7 680,1320 681.5,1327.3 683,1334.4 684.5,1340.9 686,1346.7 687.5,1351.8 689,1355.9 690.5,1358.4 692,1359.7 693.5,1360.6 695,1361 696.5,1361.1 698,1360.7 699.5,1359.9 701,1358.9 702.5,1357.6 704,1356 705.5,1353.7 707,1350.9 708.5,1347.4 710,1342.6 711.5,1335.7 713,1327.3 714.5,1318.9 716,1311 717.5,1303.2 719,1294.7 720.5,1285.2 722,1275.1 723.5,1265 725,1255 726.5,1245 728,1235 729.5,1225 731,1215 732.5,1205 734,1195 735.5,1185 737,1175 738.5,1165 740,1154.9 741.5,1145 743,1135.3 744.5,1126 746,1117.4 747.5,1109.3 749,1101.9 750.5,1095.1 752,1088.9 753.5,1083 755,1077.7 756.5,1072.9 758,1068.8 759.5,1065 761,1061.7 762.5,1059 764,1057.2 765.5,1056.1 767,1055.3 768.5,1054.8 770,1054.6 771.5,1054.8 773,1055.3 774.5,1056.1 776,1057.2 777.5,1059 779,1061.7 780.5,1065 782,1068.8 783.5,1073 785,1077.8 786.5,1083.2 788,1089 789.5,1095.1 791,1101.3 792.5,1108 794,1114.9 795.5,1122 797,1129.3 798.5,1136.8 800,1144.5 801.5,1152.3 803,1160.1 804.5,1167.9 806,1175.7 807.5,1183.5 809,1191.2 810.5,1198.8 812,1206.3 813.5,1213.5 815,1220.3 816.5,1226.8 818,1232.9 819.5,1238.5 821,1243.4 822.5,1247.6 824,1251.4 825.5,1255 827,1258.2 828.5,1261.3 830,1264.1 831.5,1266.6 833,1268.9 834.5,1271 836,1273.1 837.5,1275.1 839,1277 840.5,1278.9 842,1280.7 843.5,1282.3 845,1283.8 846.5,1285.1 848,1286.2 849.5,1287.1 851,1287.7 852.5,1288.1 854,1288.4 855.5,1288.6 857,1288.7 858.5,1288.7 860,1288.6 861.5,1288.4 863,1288.2 864.5,1287.9 866,1287.4 867.5,1286.8 869,1286 870.5,1285.1 872,1284 873.5,1282.8 875,1281.5 876.5,1280 878,1278.5 879.5,1276.9 881,1275.3 882.5,1273.5 884,1271.8 885.5,1270 887,1268 888.5,1265.7 890,1263.2 891.5,1260.4 893,1257.5 894.5,1254.4 896,1251.1 897.5,1247.8 899,1244.4 900.5,1240.7 902,1236.8 903.5,1232.7 905,1228.3 906.5,1223.8 908,1219.2 909.5,1214.3 911,1209.2 912.5,1203.9 914,1198.6 915.5,1193.2 917,1187.8 918.5,1182.2 920,1176.6 921.5,1170.9 923,1165 924.5,1158.9 926,1152.8 927.5,1147 929,1141.4 930.5,1136 932,1130.9 933.5,1126 935,1121.5 936.5,1117.4 938,1113.5 939.5,1109.8 941,1106.4 942.5,1103.3 944,1100.5 945.5,1097.9 947,1095.6 948.5,1093.7 950,1092.4 951.5,1091.6 953,1091.1 954.5,1090.7 956,1090.6 957.5,1090.7 959,1091 960.5,1091.5 962,1092.1 963.5,1093.1 965,1094.6 966.5,1096.6 968,1098.9 969.5,1101.5 971,1104.6 972.5,1108.3 974,1112.4 975.5,1116.9 977,1121.8 978.5,1127.2 980,1133.2 981.5,1139.6 983,1146.2 984.5,1153.1 986,1160.2 987.5,1167.6 989,1175 990.5,1182.4 992,1190 993.5,1197.5 995,1205 996.5,1212.5 998,1220 999.5,1227.5 1001,1235.1 1002.5,1242.5 1004,1249.9 1005.5,1257.2 1007,1264.3 1008.5,1271 1010,1277.3 1011.5,1283.3 1013,1288.9 1014.5,1294.1 1016,1299.2 1017.5,1304.2 1019,1309 1020.5,1313.5 1022,1317.3 1023.5,1320 1025,1321.8 1026.5,1322.9 1028,1323.7 1029.5,1324.3 1031,1324.4 1032.5,1324.1 1034,1323.4 1035.5,1322.5 1037,1321.3 1038.5,1319.5 1040,1316.9 1041.5,1313.6 1043,1309.8 1044.5,1305.6 1046,1301.1 1047.5,1296.5 1049,1291.5 1050.5,1286 1052,1279.8 1053.5,1273.3 1055,1266.4 1056.5,1259.2 1058,1251.5 1059.5,1243.6 1061,1235.5 1062.5,1227.1 1064,1218.5 1065.5,1209.7 1067,1200.9 1068.5,1192.3 1070,1183.9 1071.5,1175.6 1073,1167 1074.5,1158.1 1076,1149.4 1077.5,1141.1 1079,1133.2 1080.5,1125.9 1082,1119 1083.5,1112.4 1085,1106.2 1086.5,1100.6 1088,1095.9 1089.5,1091.8 1091,1088.1 1092.5,1084.9 1094,1082.2 1095.5,1080.4 1097,1079.3 1098.5,1078.5 1100,1077.9 1101.5,1077.6 1103,1077.7 1104.5,1078.1 1106,1078.7 1107.5,1079.6 1109,1080.9 1110.5,1082.8 1112,1085.5 1113.5,1088.6 1115,1092 1116.5,1095.7 1118,1099.9 1119.5,1104.7 1121,1109.9 1122.5,1115.4 1124,1121 1125.5,1126.7 1127,1132.6 1128.5,1138.8 1130,1145 1131.5,1151.4 1133,1157.9 1134.5,1164.5 1136,1171.1 1137.5,1177.5 1139,1184 1140.5,1190.6 1142,1197.4 1143.5,1204.5 1145,1211.8 1146.5,1218.8 1148,1225.4 1149.5,1231.8 1151,1238 1152.5,1244 1154,1249.7 1155.5,1255.3 1157,1260.6 1158.5,1265.8 1160,1270.9 1161.5,1276.2 1163,1281.6 1164.5,1287.1 1166,1292.1 1167.5,1296.4 1169,1299.6 1170.5,1301.7 1172,1302.9 1173.5,1303.7 1175,1304.2 1176.5,1304.4 1178,1304.2 1179.5,1303.6 1181,1302.8 1182.5,1301.8 1184,1300.4 1185.5,1298.4 1187,1295.8 1188.5,1292.7 1190,1289.3 1191.5,1285.6 1193,1281.7 1194.5,1277.8 1196,1273.8 1197.5,1270 1199,1266.1 1200.5,1262 1202,1257.8 1203.5,1253.4 1205,1248.8 1206.5,1244.2 1208,1239.4 1209.5,1234.4 1211,1229.3 1212.5,1224.2 1214,1219.2 1215.5,1214.2 1217,1209.2 1218.5,1204.2 1220,1199.2 1221.5,1194.1 1223,1189.1 1224.5,1184 1226,1178.9 1227.5,1174 1229,1169.3 1230.5,1164.7 1232,1160.2 1233.5,1155.8 1235,1151.6 1236.5,1147.6 1238,1143.8 1239.5,1140.2 1241,1136.7 1242.5,1133.3 1244,1130 1245.5,1126.9 1247,1124 1248.5,1121.3 1250,1118.8 1251.5,1116.2 1253,1113.7 1254.5,1111.3 1256,1109.1 1257.5,1107.2 1259,1105.6 1260.5,1104.5 1262,1103.8 1263.5,1103.2 1265,1102.8 1266.5,1102.6 1268,1102.6 1269.5,1102.8 1271,1103.2 1272.5,1103.7 1274,1104.4 1275.5,1105.6 1277,1107.2 1278.5,1109.3 1280,1111.7 1281.5,1114.4 1283,1117.4 1284.5,1120.8 1286,1124.9 1287.5,1129.9 1289,1135.7 1290.5,1141.9 1292,1148.5 1293.5,1155.7 1295,1163.4 1296.5,1171.3 1298,1179.4 1299.5,1187.7 1301,1196.2 1302.5,1202.9 1302.6,1205.5"/>
<polyline shape-rendering="crispEdges" fill="none" stroke="#377eb8" stroke-width="11" stroke-linejoin="round" stroke-linecap="butt" points="218,1461.5 219.5,1461.2 221,1460.9 222.5,1460.7 224,1460.5 225.5,1460.2 227,1460 228.5,1459.9 230,1459.7 231.5,1459.6 233,1459.4 234.5,1459.3 236,1459.2 237.5,1459.1 239,1459 240.5,1459 242,1459.1 243.5,1459.3 245,1459.5 246.5,1459.7 248,1460 249.5,1460.4 251,1460.9 252.5,1461.4 254,1462.1 255.5,1462.7 257,1463.5 258.5,1464.3 260,1465.2 261.5,1466.2 263,1467.2 264.5,1468.4 266,1469.6 267.5,1471 269,1472.5 270.5,1474.2 272,1476 273.5,1477.9 275,1480.1 276.5,1482.5 278,1485.2 279.5,1488.3 281,1491.6 282.5,1495.1 284,1498.9 285.5,1503.1 287,1507.5 288.5,1511.9 290,1516.3 291.5,1520.8 293,1525.9 294.5,1531.9 296,1538.9 297.5,1546.4 299,1553.9 300.5,1561.4 302,1568.9 303.5,1576.6 305,1584.5 306.5,1592.5 308,1600.5 309.5,1608.3 311,1615.9 312.5,1623.1 314,1629.9 315.5,1636.4 317,1642.4 318.5,1647.9 320,1652.8 321.5,1657.4 323,1661.1 324.5,1663.6 326,1665 327.5,1665.9 329,1666.4 330.5,1666.6 332,1666.4 333.5,1665.8 335,1664.9 336.5,1663.8 338,1662.3 339.5,1660.1 341,1657.3 342.5,1653.8 344,1648.9 345.5,1641.6 347,1632.2 348.5,1622.1 350,1611.5 351.5,1600.2 353,1588.1 354.5,1575.8 356,1564 357.5,1552.3 359,1540.1 360.5,1527.7 362,1515.9 363.5,1504.2 365,1492.1 366.5,1479.7 368,1467.7 369.5,1456.2 371,1445.3 372.5,1435.2 374,1425.7 375.5,1416.8 377,1408.4 378.5,1400.6 380,1393.2 381.5,1386.2 383,1379.6 384.5,1373.7 386,1368.1 387.5,1362.9 389,1358.1 390.5,1353.8 392,1350 393.5,1346.6 395,1343.8 396.5,1341.8 398,1340.7 399.5,1340 401,1339.5 402.5,1339.3 404,1339.5 405.5,1339.9 407,1340.5 408.5,1341.4 410,1342.6 411.5,1344.4 413,1346.8 414.5,1349.6 416,1353.2 417.5,1357.8 419,1363.3 420.5,1369.4 422,1375.5 423.5,1381.9 425,1388.6 426.5,1395.7 428,1403.2 429.5,1411.3 431,1419.8 432.5,1428.4 434,1437.2 435.5,1446.1 437,1454.9 438.5,1463.7 440,1472.6 441.5,1481.5 443,1490.3 444.5,1499 446,1507.2 447.5,1515.2 449,1522.9 450.5,1530.7 452,1538.3 453.5,1545.7 455,1552.7 456.5,1559.3 458,1565.6 459.5,1571.6 461,1577.3 462.5,1582.7 464,1587.9 465.5,1592.8 467,1597.5 468.5,1602.1 470,1606.7 471.5,1610.9 473,1613.9 474.5,1615.7 476,1616.8 477.5,1617.5 479,1617.9 480.5,1617.8 482,1617.3 483.5,1616.4 485,1615.2 486.5,1613.5 488,1611 489.5,1607.7 491,1604.1 492.5,1600.5 494,1596.9 495.5,1593.2 497,1589.3 498.5,1585.3 500,1581.5 501.5,1577.9 503,1574.4 504.5,1571.1 506,1567.9 507.5,1565 509,1562.2 510.5,1559.7 512,1557.4 513.5,1555.2 515,1553.2 516.5,1551.3 518,1549.7 519.5,1548.4 521,1547.4 522.5,1546.5 524,1545.6 525.5,1544.9 527,1544.3 528.5,1543.9 530,1543.8 531.5,1544 533,1544.5 534.5,1545.3 536,1546.3 537.5,1547.3 539,1548.4 540.5,1549.4 542,1550.2 543.5,1551 545,1551.8 546.5,1552.6 548,1553.3 549.5,1554 551,1554.7 552.5,1555.1 554,1555.4 555.5,1555.4 557,1555.2 558.5,1554.7 560,1553.9 561.5,1553 563,1552 564.5,1550.8 566,1549.4 567.5,1547.5 569,1545 570.5,1542.2 572,1539 573.5,1535.4 575,1531.1 576.5,1526.3 578,1521 579.5,1515.3 581,1509.1 582.5,1502.6 584,1495.7 585.5,1488.3 587,1480.6 588.5,1473 590,1465.5 591.5,1458 593,1450.5 594.5,1442.9 596,1435.4 597.5,1428 599,1420.7 600.5,1413.6 602,1406.8 603.5,1400.6 605,1395 606.5,1389.7 608,1384.8 609.5,1380.3 611,1376.2 612.5,1372.4 614,1369.1 615.5,1366.7 617,1365.3 618.5,1364.4 620,1363.8 621.5,1363.6 623,1363.8 624.5,1364.3 626,1365.2 627.5,1366.4 629,1368.2 630.5,1370.9 632,1374.4 633.5,1378.7 635,1384.1 636.5,1390.4 638,1397.1 639.5,1404.1 641,1411.3 642.5,1419 644,1426.9 645.5,1435.1 647,1443.5 648.5,1451.9 650,1460.2 651.5,1468.5 653,1477 654.5,1485.8 656,1494.6 657.5,1503.2 659,1511.6 660.5,1519.9 662,1528.5 663.5,1537.3 665,1546.1 666.5,1554.7 668,1563.1 669.5,1571.4 671,1579.5 672.5,1587.5 674,1595.3 675.5,1603 677,1610.7 678.5,1618.2 680,1625.5 681.5,1632.8 683,1639.9 684.5,1646.4 686,1652.2 687.5,1657.3 689,1661.4 690.5,1663.9 692,1665.2 693.5,1666.1 695,1666.5 696.5,1666.6 698,1666.2 699.5,1665.4 701,1664.4 702.5,1663.1 704,1661.5 705.5,1659.2 707,1656.4 708.5,1652.9 710,1648.1 711.5,1641.2 713,1632.8 714.5,1624.4 716,1616.5 717.5,1608.7 719,1600.2 720.5,1590.7 722,1580.6 723.5,1570.5 725,1560.5 726.5,1550.5 728,1540.5 729.5,1530.5 731,1520.5 732.5,1510.5 734,1500.5 735.5,1490.5 737,1480.5 738.5,1470.5 740,1460.4 741.5,1450.5 743,1440.8 744.5,1431.5 746,1422.9 747.5,1414.8 749,1407.4 750.5,1400.6 752,1394.4 753.5,1388.5 755,1383.2 756.5,1378.4 758,1374.3 759.5,1370.5 761,1367.2 762.5,1364.5 764,1362.7 765.5,1361.6 767,1360.8 768.5,1360.3 770,1360.1 771.5,1360.3 773,1360.8 774.5,1361.6 776,1362.7 777.5,1364.5 779,1367.2 780.5,1370.5 782,1374.3 783.5,1378.5 785,1383.3 786.5,1388.7 788,1394.5 789.5,1400.6 791,1406.8 792.5,1413.5 794,1420.4 795.5,1427.5 797,1434.8 798.5,1442.3 800,1450 801.5,1457.8 803,1465.6 804.5,1473.4 806,1481.2 807.5,1489 809,1496.7 810.5,1504.3 812,1511.8 813.5,1519 815,1525.8 816.5,1532.3 818,1538.4 819.5,1544 821,1548.9 822.5,1553.1 824,1556.9 825.5,1560.5 827,1563.7 828.5,1566.8 830,1569.6 831.5,1572.1 833,1574.4 834.5,1576.5 836,1578.6 837.5,1580.6 839,1582.5 840.5,1584.4 842,1586.2 843.5,1587.8 845,1589.3 846.5,1590.6 848,1591.7 849.5,1592.6 851,1593.2 852.5,1593.6 854,1593.9 855.5,1594.1 857,1594.2 858.5,1594.2 860,1594.1 861.5,1593.9 863,1593.7 864.5,1593.4 866,1592.9 867.5,1592.3 869,1591.5 870.5,1590.6 872,1589.5 873.5,1588.3 875,1587 876.5,1585.5 878,1584 879.5,1582.4 881,1580.8 882.5,1579 884,1577.3 885.5,1575.5 887,1573.5 888.5,1571.2 890,1568.7 891.5,1565.9 893,1563 894.5,1559.9 896,1556.6 897.5,1553.3 899,1549.9 900.5,1546.2 902,1542.3 903.5,1538.2 905,1533.8 906.5,1529.3 908,1524.7 909.5,1519.8 911,1514.7 912.5,1509.4 914,1504.1 915.5,1498.7 917,1493.3 918.5,1487.7 920,1482.1 921.5,1476.4 923,1470.5 924.5,1464.4 926,1458.3 927.5,1452.5 929,1446.9 930.5,1441.5 932,1436.4 933.5,1431.5 935,1427 936.5,1422.9 938,1419 939.5,1415.3 941,1411.9 942.5,1408.8 944,1406 945.5,1403.4 947,1401.1 948.5,1399.2 950,1397.9 951.5,1397.1 953,1396.6 954.5,1396.2 956,1396.1 957.5,1396.2 959,1396.5 960.5,1397 962,1397.6 963.5,1398.6 965,1400.1 966.5,1402.1 968,1404.4 969.5,1407 971,1410.1 972.5,1413.8 974,1417.9 975.5,1422.4 977,1427.3 978.5,1432.7 980,1438.7 981.5,1445.1 983,1451.7 984.5,1458.6 986,1465.7 987.5,1473.1 989,1480.5 990.5,1487.9 992,1495.5 993.5,1503 995,1510.5 996.5,1518 998,1525.5 999.5,1533 1001,1540.6 1002.5,1548 1004,1555.4 1005.5,1562.7 1007,1569.8 1008.5,1576.5 1010,1582.8 1011.5,1588.8 1013,1594.4 1014.5,1599.6 1016,1604.7 1017.5,1609.7 1019,1614.5 1020.5,1619 1022,1622.8 1023.5,1625.5 1025,1627.3 1026.5,1628.4 1028,1629.2 1029.5,1629.8 1031,1629.9 1032.5,1629.6 1034,1628.9 1035.5,1628 1037,1626.8 1038.5,1625 1040,1622.4 1041.5,1619.1 1043,1615.3 1044.5,1611.1 1046,1606.6 1047.5,1602 1049,1597 1050.5,1591.5 1052,1585.3 1053.5,1578.8 1055,1571.9 1056.5,1564.7 1058,1557 1059.5,1549.1 1061,1541 1062.5,1532.6 1064,1524 1065.5,1515.2 1067,1506.4 1068.5,1497.8 1070,1489.4 1071.5,1481.1 1073,1472.5 1074.5,1463.6 1076,1454.9 1077.5,1446.6 1079,1438.7 1080.5,1431.4 1082,1424.5 1083.5,1417.9 1085,1411.7 1086.5,1406.1 1088,1401.4 1089.5,1397.3 1091,1393.6 1092.5,1390.4 1094,1387.7 1095.5,1385.9 1097,1384.8 1098.5,1384 1100,1383.4 1101.5,1383.1 1103,1383.2 1104.5,1383.6 1106,1384.2 1107.5,1385.1 1109,1386.4 1110.5,1388.3 1112,1391 1113.5,1394.1 1115,1397.5 1116.5,1401.2 1118,1405.4 1119.5,1410.2 1121,1415.4 1122.5,1420.9 1124,1426.5 1125.5,1432.2 1127,1438.1 1128.5,1444.3 1130,1450.5 1131.5,1456.9 1133,1463.4 1134.5,1470 1136,1476.6 1137.5,1483 1139,1489.5 1140.5,1496.1 1142,1502.9 1143.5,1510 1145,1517.3 1146.5,1524.3 1148,1530.9 1149.5,1537.3 1151,1543.5 1152.5,1549.5 1154,1555.2 1155.5,1560.8 1157,1566.1 1158.5,1571.3 1160,1576.4 1161.5,1581.7 1163,1587.1 1164.5,1592.6 1166,1597.6 1167.5,1601.9 1169,1605.1 1170.5,1607.2 1172,1608.4 1173.5,1609.2 1175,1609.7 1176.5,1609.9 1178,1609.7 1179.5,1609.1 1181,1608.3 1182.5,1607.3 1184,1605.9 1185.5,1603.9 1187,1601.3 1188.5,1598.2 1190,1594.8 1191.5,1591.1 1193,1587.2 1194.5,1583.3 1196,1579.3 1197.5,1575.5 1199,1571.6 1200.5,1567.5 1202,1563.3 1203.5,1558.9 1205,1554.3 1206.5,1549.7 1208,1544.9 1209.5,1539.9 1211,1534.8 1212.5,1529.7 1214,1524.7 1215.5,1519.7 1217,1514.7 1218.5,1509.7 1220,1504.7 1221.5,1499.6 1223,1494.6 1224.5,1489.5 1226,1484.4 1227.5,1479.5 1229,1474.8 1230.5,1470.2 1232,1465.7 1233.5,1461.3 1235,1457.1 1236.5,1453.1 1238,1449.3 1239.5,1445.7 1241,1442.2 1242.5,1438.8 1244,1435.5 1245.5,1432.4 1247,1429.5 1248.5,1426.8 1250,1424.3 1251.5,1421.7 1253,1419.2 1254.5,1416.8 1256,1414.6 1257.5,1412.7 1259,1411.1 1260.5,1410 1262,1409.3 1263.5,1408.7 1265,1408.3 1266.5,1408.1 1268,1408.1 1269.5,1408.3 1271,1408.7 1272.5,1409.2 1274,1409.9 1275.5,1411.1 1277,1412.7 1278.5,1414.8 1280,1417.2 1281.5,1419.9 1283,1422.9 1284.5,1426.3 1286,1430.4 1287.5,1435.4 1289,1441.2 1290.5,1447.4 1292,1454 1293.5,1461.2 1295,1468.9 1296.5,1476.8 1298,1484.9 1299.5,1493.2 1301,1501.7 1302.5,1508.4 1302.6,1511"/>
<g stroke="#000" fill="none" stroke-linecap="butt">
<path d="M222.6,46.1 V1746" stroke-width="3"/>
<path d="M222.6,47.6 H1303.5" stroke-width="3"/>
<path d="M222.6,1744.5 H1303.5" stroke-width="3"/>
<path d="M222.6,1659.7 h17.5 M222.6,1574.8 h31.5 M222.6,1490 h17.5 M222.6,1405.1 h31.5 M222.6,1320.3 h17.5 M222.6,1235.4 h31.5 M222.6,1150.6 h17.5 M222.6,1065.7 h31.5 M222.6,980.9 h17.5 M222.6,896.1 h31.5 M222.6,811.2 h17.5 M222.6,726.4 h31.5 M222.6,641.5 h17.5 M222.6,556.7 h31.5 M222.6,471.8 h17.5 M222.6,387 h31.5 M222.6,302.1 h17.5 M222.6,217.3 h31.5 M222.6,132.4 h17.5" stroke-width="3"/>
<path d="M408.8,47.6 v32 M408.8,1744.5 v-32 M595,47.6 v17.5 M595,1744.5 v-17.5 M781.2,47.6 v32 M781.2,1744.5 v-32 M967.4,47.6 v14.5 M967.4,1744.5 v-17.5 M1153.6,47.6 v14.5 M1153.6,1744.5 v-32" stroke-width="1.8"/>
</g>
<path d="M1302.6,46.1 V1746" stroke="#000" stroke-width="1.8" fill="none"/>
<g font-size="29">
<polyline fill="none" stroke="#000000" stroke-width="2" marker-start="url(#m-black)" marker-end="url(#m-black)" points="925,91.2 987,91.2"/>
<text x="1019" y="98.2">Allen (1997)</text>
<polyline fill="none" stroke="#e41a1c" stroke-width="2" marker-start="url(#m-red)" marker-end="url(#m-red)" points="925,133.2 987,133.2"/>
<text x="1019" y="139.9">Hennig (2007)</text>
<polyline fill="none" stroke="#66063f" stroke-width="2" marker-start="url(#m-purple)" marker-end="url(#m-purple)" points="925,174.8 987,174.8"/>
<text x="1019" y="181.2">Reich (2000)</text>
<polyline fill="none" stroke="#4daf4a" stroke-width="2" marker-start="url(#m-green)" marker-end="url(#m-green)" points="925,215.4 987,215.4"/>
<text x="1019" y="222.5">Ikeda (2008)</text>
<path d="M921.3,254.3 H992" stroke="#377eb8" stroke-width="10" fill="none"/>
<text x="1019" y="264">B3LYP</text>
</g>
</svg></body></html>
